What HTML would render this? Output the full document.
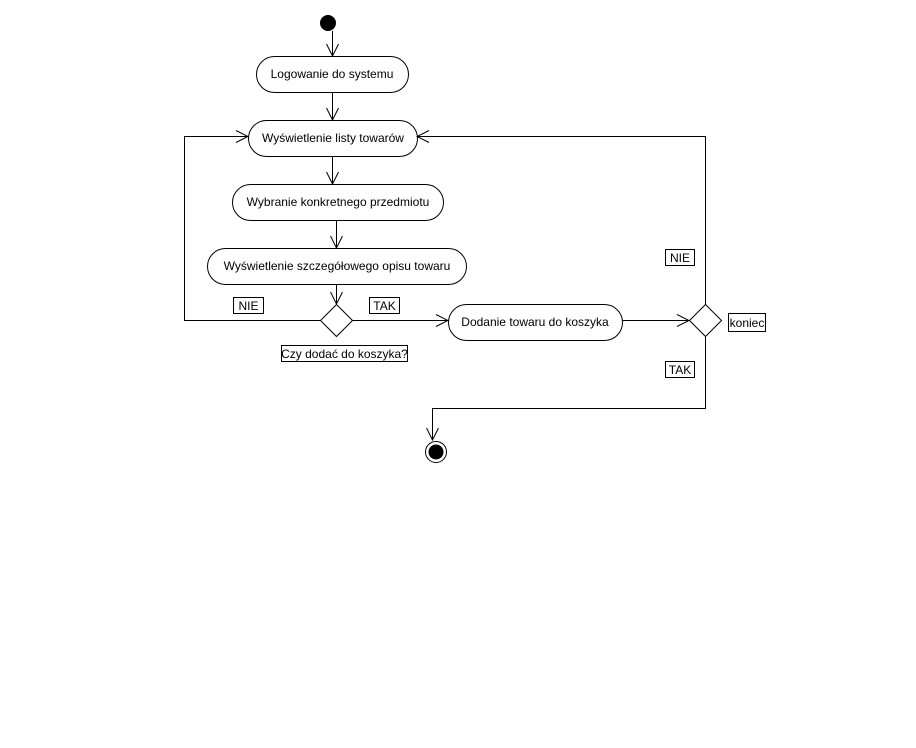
<!DOCTYPE html>
<html><head><style>
body{margin:0;background:#fff;}
svg{display:block;}
text{font-family:"Liberation Sans",sans-serif;font-size:12px;fill:#000;}
</style></head><body>
<svg width="916" height="748" viewBox="0 0 916 748" xmlns="http://www.w3.org/2000/svg">
<defs>
<marker id="a" markerWidth="14" markerHeight="14" refX="13" refY="7" orient="auto" markerUnits="userSpaceOnUse">
<path d="M1,1 L13,7 L1,13" fill="none" stroke="#000" stroke-width="1"/>
</marker>
</defs>
<g fill="none" stroke="#000" stroke-width="1">
<circle cx="328" cy="23" r="7.5" fill="#000"/>
<line x1="332.5" y1="31" x2="332.5" y2="56" marker-end="url(#a)"/>
<rect x="256.5" y="56.5" width="152" height="36" rx="18" fill="#fff"/>
<line x1="332.5" y1="92" x2="332.5" y2="120" marker-end="url(#a)"/>
<rect x="248.5" y="120.5" width="169" height="36" rx="18" fill="#fff"/>
<line x1="332.5" y1="156" x2="332.5" y2="184" marker-end="url(#a)"/>
<rect x="232.5" y="184.5" width="211" height="36" rx="18" fill="#fff"/>
<line x1="336.5" y1="220" x2="336.5" y2="248" marker-end="url(#a)"/>
<rect x="207.5" y="248.5" width="259" height="36" rx="18" fill="#fff"/>
<line x1="336.5" y1="284" x2="336.5" y2="304" marker-end="url(#a)"/>
<polygon points="336.5,304.5 352.5,320.5 336.5,336.5 320.5,320.5" fill="#fff"/>
<polyline points="320.5,320.5 184.5,320.5 184.5,136.5 248,136.5" marker-end="url(#a)"/>
<line x1="352.5" y1="320.5" x2="448" y2="320.5" marker-end="url(#a)"/>
<rect x="448.5" y="304.5" width="174" height="36" rx="18" fill="#fff"/>
<line x1="622.5" y1="320.5" x2="689" y2="320.5" marker-end="url(#a)"/>
<polygon points="705.5,304.5 721.5,320.5 705.5,336.5 689.5,320.5" fill="#fff"/>
<polyline points="705.5,304.5 705.5,136.5 417,136.5" marker-end="url(#a)"/>
<polyline points="705.5,336.5 705.5,408.5 432.5,408.5 432.5,440" marker-end="url(#a)"/>
<circle cx="436" cy="452" r="10.5" fill="#fff"/>
<circle cx="436" cy="452" r="7" fill="#000"/>
<rect x="233.5" y="297.5" width="30" height="16" fill="#fff"/>
<rect x="369.5" y="297.5" width="30" height="16" fill="#fff"/>
<rect x="281.5" y="345.5" width="126" height="16" fill="#fff"/>
<rect x="665.5" y="249.5" width="29" height="16" fill="#fff"/>
<rect x="665.5" y="361.5" width="29" height="16" fill="#fff"/>
<rect x="728.5" y="313.5" width="37" height="18" fill="#fff"/>
</g>
<text x="332" y="78" text-anchor="middle">Logowanie do systemu</text>
<text x="333" y="142" text-anchor="middle">Wyświetlenie listy towarów</text>
<text x="338" y="206" text-anchor="middle">Wybranie konkretnego przedmiotu</text>
<text x="337" y="270" text-anchor="middle">Wyświetlenie szczegółowego opisu towaru</text>
<text x="535" y="326" text-anchor="middle">Dodanie towaru do koszyka</text>
<text x="248.5" y="310" text-anchor="middle">NIE</text>
<text x="384.5" y="310" text-anchor="middle">TAK</text>
<text x="344.5" y="358" text-anchor="middle">Czy dodać do koszyka?</text>
<text x="680" y="262" text-anchor="middle">NIE</text>
<text x="680" y="374" text-anchor="middle">TAK</text>
<text x="747" y="327" text-anchor="middle">koniec</text>
</svg>
</body></html>
